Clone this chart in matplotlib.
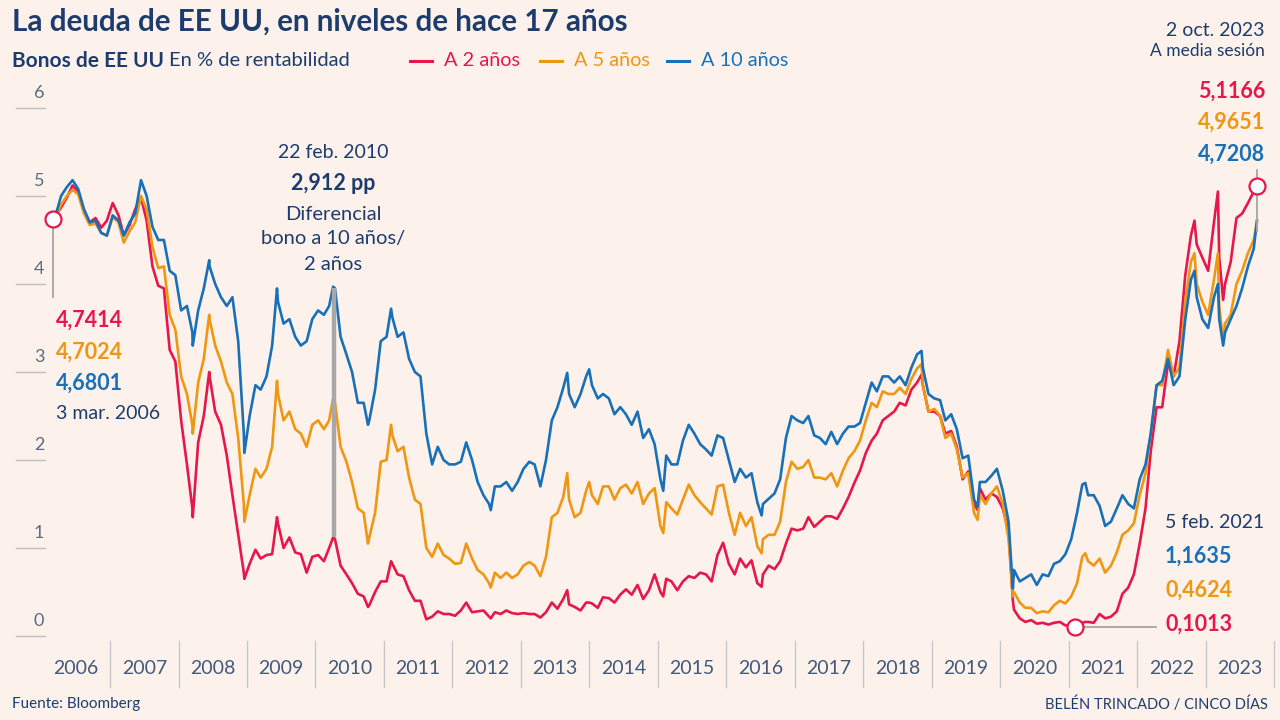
import matplotlib
matplotlib.use("Agg")
import matplotlib.pyplot as plt
import numpy as np
import pandas as pd

# ---------------- data ----------------
start_date = "2006-03-03"
end_date = "2023-10-02"
start_vals = {"y2": 4.7414, "y5": 4.7024, "y10": 4.6801}
end_vals = {"y2": 5.1166, "y5": 4.70, "y10": 4.7208}

# monthly readings (mid-month), Apr 2006 .. Sep 2023
y2 = [
    4.87, 4.98, 5.12, 5.05, 4.82, 4.70, 4.75, 4.64, 4.72,
    4.92, 4.78, 4.55, 4.67, 4.85, 4.98, 4.72, 4.20, 3.98, 3.95, 3.25, 3.12,
    2.45, 1.95, 1.45, 2.20, 2.50, 2.95, 2.55, 2.40, 2.05, 1.60, 1.15, 0.72,
    0.82, 0.98, 0.88, 0.92, 0.93, 1.28, 1.00, 1.12, 0.95, 0.93, 0.72, 0.90,
    0.92, 0.85, 1.00, 1.10, 0.80, 0.70, 0.60, 0.48, 0.45, 0.35, 0.50, 0.62,
    0.62, 0.82, 0.70, 0.68, 0.52, 0.40, 0.40, 0.19, 0.22, 0.28, 0.25, 0.25,
    0.23, 0.29, 0.38, 0.27, 0.28, 0.29, 0.22, 0.27, 0.25, 0.29, 0.26, 0.25,
    0.26, 0.25, 0.25, 0.21, 0.27, 0.38, 0.31, 0.42, 0.36, 0.33, 0.29, 0.38,
    0.37, 0.32, 0.44, 0.43, 0.38, 0.47, 0.53, 0.47, 0.58, 0.42, 0.52, 0.70,
    0.50, 0.65, 0.62, 0.52, 0.62, 0.68, 0.66, 0.72, 0.70, 0.62, 0.92, 1.06,
    0.82, 0.70, 0.88, 0.78, 0.86, 0.60, 0.70, 0.80, 0.76, 0.85, 1.05, 1.22,
    1.20, 1.22, 1.35, 1.24, 1.30, 1.36, 1.36, 1.33, 1.45, 1.58, 1.74, 1.88,
    2.08, 2.22, 2.30, 2.45, 2.50, 2.55, 2.65, 2.62, 2.80, 2.88, 2.85, 2.55,
    2.55, 2.50, 2.30, 2.33, 2.15, 1.78, 1.87, 1.50, 1.68, 1.55, 1.62, 1.58,
    1.45, 1.20, 0.30, 0.20, 0.16, 0.18, 0.14, 0.15, 0.13, 0.15, 0.16, 0.12,
    0.12, 0.11, 0.15, 0.16, 0.15, 0.25, 0.20, 0.22, 0.28, 0.48, 0.55, 0.70,
    1.05, 1.45, 2.10, 2.60, 2.60, 3.10, 2.95, 3.35, 4.10, 4.55, 4.45, 4.30,
    4.15, 4.70, 4.30, 4.00, 4.25, 4.75, 4.80, 4.92, 5.05,
]
y5 = [
    4.90, 5.00, 5.07, 5.02, 4.80, 4.67, 4.69, 4.58, 4.55,
    4.76, 4.70, 4.47, 4.60, 4.70, 5.00, 4.85, 4.42, 4.18, 4.20, 3.65, 3.48,
    2.95, 2.75, 2.40, 2.88, 3.15, 3.60, 3.30, 3.12, 2.88, 2.75, 2.25, 1.50,
    1.60, 1.90, 1.80, 1.90, 2.15, 2.75, 2.45, 2.55, 2.35, 2.30, 2.15, 2.40,
    2.45, 2.35, 2.45, 2.65, 2.15, 1.98, 1.75, 1.45, 1.40, 1.12, 1.40, 1.98,
    2.00, 2.28, 2.10, 2.15, 1.80, 1.55, 1.50, 1.00, 0.90, 1.05, 0.92, 0.88,
    0.82, 0.83, 1.05, 0.88, 0.75, 0.70, 0.60, 0.72, 0.66, 0.72, 0.66, 0.70,
    0.80, 0.84, 0.80, 0.68, 0.90, 1.35, 1.40, 1.58, 1.55, 1.35, 1.40, 1.65,
    1.60, 1.50, 1.70, 1.70, 1.55, 1.68, 1.72, 1.62, 1.75, 1.50, 1.62, 1.68,
    1.25, 1.52, 1.45, 1.38, 1.55, 1.72, 1.60, 1.52, 1.45, 1.38, 1.70, 1.72,
    1.40, 1.15, 1.40, 1.25, 1.35, 1.02, 1.10, 1.15, 1.15, 1.30, 1.75, 1.98,
    1.90, 1.92, 2.00, 1.80, 1.80, 1.78, 1.85, 1.70, 1.88, 2.02, 2.10, 2.22,
    2.45, 2.65, 2.60, 2.78, 2.75, 2.75, 2.82, 2.75, 2.92, 3.04, 2.85, 2.55,
    2.58, 2.50, 2.25, 2.30, 2.12, 1.80, 1.85, 1.40, 1.60, 1.50, 1.62, 1.70,
    1.50, 1.10, 0.50, 0.38, 0.32, 0.32, 0.26, 0.28, 0.27, 0.35, 0.40, 0.37,
    0.45, 0.60, 0.90, 0.85, 0.80, 0.88, 0.72, 0.80, 0.95, 1.15, 1.20, 1.28,
    1.60, 1.85, 2.30, 2.85, 2.85, 3.25, 2.95, 3.05, 3.80, 4.25, 4.00, 3.80,
    3.65, 4.05, 3.75, 3.55, 3.65, 4.00, 4.15, 4.35, 4.50,
]
y10 = [
    5.00, 5.10, 5.18, 5.08, 4.85, 4.70, 4.72, 4.58, 4.55,
    4.78, 4.72, 4.55, 4.70, 4.80, 5.18, 5.00, 4.65, 4.50, 4.50, 4.15, 4.10,
    3.70, 3.75, 3.45, 3.70, 3.95, 4.20, 4.00, 3.85, 3.75, 3.85, 3.35, 2.30,
    2.50, 2.85, 2.80, 2.95, 3.30, 3.80, 3.55, 3.60, 3.40, 3.30, 3.35, 3.60,
    3.70, 3.65, 3.75, 3.95, 3.40, 3.20, 3.00, 2.65, 2.65, 2.45, 2.80, 3.35,
    3.40, 3.62, 3.40, 3.45, 3.15, 3.00, 2.95, 2.30, 1.95, 2.15, 2.00, 1.95,
    1.95, 1.98, 2.20, 2.00, 1.75, 1.60, 1.50, 1.70, 1.70, 1.75, 1.65, 1.75,
    1.90, 1.98, 1.95, 1.70, 2.00, 2.45, 2.60, 2.82, 2.75, 2.60, 2.75, 2.95,
    2.85, 2.70, 2.75, 2.70, 2.52, 2.60, 2.52, 2.40, 2.55, 2.25, 2.35, 2.18,
    1.78, 2.05, 1.95, 1.95, 2.22, 2.40, 2.30, 2.18, 2.12, 2.05, 2.28, 2.25,
    2.00, 1.75, 1.90, 1.80, 1.85, 1.52, 1.50, 1.56, 1.62, 1.78, 2.25, 2.50,
    2.45, 2.42, 2.50, 2.28, 2.25, 2.18, 2.32, 2.18, 2.30, 2.38, 2.38, 2.42,
    2.65, 2.88, 2.78, 2.95, 2.95, 2.88, 2.95, 2.85, 3.05, 3.20, 3.05, 2.75,
    2.70, 2.68, 2.45, 2.52, 2.35, 2.02, 2.05, 1.55, 1.75, 1.75, 1.82, 1.90,
    1.65, 1.30, 0.75, 0.62, 0.66, 0.70, 0.58, 0.70, 0.68, 0.82, 0.85, 0.93,
    1.10, 1.40, 1.72, 1.60, 1.60, 1.48, 1.25, 1.30, 1.45, 1.60, 1.50, 1.45,
    1.78, 1.95, 2.30, 2.85, 2.90, 3.15, 2.85, 2.95, 3.60, 4.05, 3.85, 3.60,
    3.50, 3.85, 3.60, 3.45, 3.60, 3.75, 3.95, 4.20, 4.40,
]

# extra readings at visible peaks and troughs
extra_dates = [
    "2008-03-17", "2008-06-13", "2008-12-18", "2009-06-10", "2010-04-05",
    "2010-10-08", "2011-02-08", "2012-07-24", "2013-09-05", "2013-12-31",
    "2015-01-30", "2016-07-08", "2018-11-08", "2019-09-03", "2020-03-09",
    "2021-03-31", "2022-11-03", "2023-03-08", "2023-04-05",
]
extra_y2 = [1.35, 3.00, 0.65, 1.35, 1.12, 0.33, 0.85, 0.20, 0.52, 0.38,
            0.45, 0.56, 2.97, 1.43, 0.40, 0.16, 4.72, 5.05, 3.82]
extra_y5 = [2.30, 3.65, 1.30, 2.90, 2.70, 1.05, 2.40, 0.55, 1.85, 1.75,
            1.17, 0.94, 3.09, 1.32, 0.45, 0.94, 4.35, 4.35, 3.35]
extra_y10 = [3.30, 4.27, 2.08, 3.95, 3.97, 2.40, 3.72, 1.43, 2.99, 3.03,
             1.65, 1.37, 3.24, 1.47, 0.54, 1.74, 4.15, 4.00, 3.30]

years = list(range(2006, 2024))
yticks = [0, 1, 2, 3, 4, 5, 6]
series_names = ["A 2 años", "A 5 años", "A 10 años"]

# annotations
spread_date = 2010.27
spread_low, spread_high = 1.12, 3.95
feb21_date = "2021-02-05"
feb21_vals = {"y10": "1,1635", "y5": "0,4624", "y2": "0,1013"}
feb21_y2 = 0.1013

# ---------------- styling ----------------
BG = "#FCF2EB"
RED = "#E5174B"
ORANGE = "#EF9612"
BLUE = "#1770B8"
NAVY = "#1D3C6E"
AXISTXT = "#40597C"
GREY = "#A5A5A5"

plt.rcParams["font.family"] = ["Lato", "DejaVu Sans"]

W, H = 1280, 720
fig = plt.figure(figsize=(12.8, 7.2), dpi=100, facecolor=BG)


def fx(x):
    return x / W


def fy(y):
    return 1 - y / H


def T(x, y, s, **kw):
    kw.setdefault("va", "center")
    fig.text(fx(x), fy(y), s, **kw)


x0_px, x1_px = 41.6, 1274.0
y0_px, y6_px = 636.0, 108.0
ax = fig.add_axes([fx(x0_px), fy(y0_px), (x1_px - x0_px) / W, (y0_px - y6_px) / H])
ax.set_xlim(2006, 2024)
ax.set_ylim(0, 6)
ax.axis("off")
ax.patch.set_alpha(0)


def dec_year(ts):
    ts = pd.DatetimeIndex(ts)
    return np.asarray(ts.year + (ts.dayofyear - 1) / (365 + ts.is_leap_year.astype(int)))


mid = pd.date_range("2006-04-01", "2023-09-01", freq="MS") + pd.Timedelta(days=14)
assert len(mid) == len(y2) == len(y5) == len(y10)

df = pd.DataFrame({
    "x": np.concatenate([dec_year([start_date]), dec_year(mid), dec_year(extra_dates),
                         dec_year([end_date])]),
    "y2": [start_vals["y2"]] + y2 + extra_y2 + [end_vals["y2"]],
    "y5": [start_vals["y5"]] + y5 + extra_y5 + [end_vals["y5"]],
    "y10": [start_vals["y10"]] + y10 + extra_y10 + [end_vals["y10"]],
}).sort_values("x")

lw = 1.9
ax.plot(df["x"], df["y2"], color=RED, lw=lw, zorder=3, clip_on=False, solid_joinstyle="round")
ax.plot(df["x"], df["y5"], color=ORANGE, lw=lw, zorder=4, clip_on=False, solid_joinstyle="round")
ax.plot(df["x"], df["y10"], color=BLUE, lw=lw, zorder=5, clip_on=False, solid_joinstyle="round")

# y ticks (short lines at left)
for v in yticks:
    ypx = y0_px - 88 * v
    fig.add_artist(plt.Line2D([fx(16), fx(45)], [fy(ypx), fy(ypx)], color="#BDBDBD", lw=1.0))
    T(39, ypx - 15, str(v), ha="center", fontsize=13, color="#5B6C82")

# year separators and labels
for yr in years:
    xb = x0_px + (yr + 1 - 2006) * (x1_px - x0_px) / 18
    fig.add_artist(plt.Line2D([fx(xb), fx(xb)], [fy(641), fy(687)], color="#C8C8C8", lw=1.0))
    xc = x0_px + (yr + 0.5 - 2006) * (x1_px - x0_px) / 18
    T(xc, 668, str(yr), ha="center", fontsize=14, color=AXISTXT)

# start marker
sx = dec_year([start_date])[0]
ax.plot([sx, sx], [3.85, start_vals["y2"]], color=GREY, lw=1.3, zorder=6, clip_on=False)
ax.plot(sx, start_vals["y2"], "o", ms=11.5, mfc="white", mec=RED, mew=1.6, zorder=8, clip_on=False)
T(56, 320, "4,7414", ha="left", fontsize=15.5, fontweight="bold", color=RED)
T(56, 352, "4,7024", ha="left", fontsize=15.5, fontweight="bold", color=ORANGE)
T(56, 383, "4,6801", ha="left", fontsize=15.5, fontweight="bold", color=BLUE)
T(56, 414, "3 mar. 2006", ha="left", fontsize=14, color=NAVY)

# spread bar
ax.plot([spread_date, spread_date], [spread_low, spread_high], color="#A8A8A8", lw=3.2,
        zorder=7, solid_capstyle="butt")
T(333, 153, "22 feb. 2010", ha="center", fontsize=14, color=NAVY)
T(333, 184, "2,912 pp", ha="center", fontsize=15.5, fontweight="bold", color=NAVY)
T(333, 214, "Diferencial", ha="center", fontsize=14.5, color=NAVY)
T(333, 239, "bono a 10 años/", ha="center", fontsize=14.5, color=NAVY)
T(333, 264, "2 años", ha="center", fontsize=14.5, color=NAVY)

# Feb 2021 marker
fxd = dec_year([feb21_date])[0]
ax.plot([fxd, 2022.27], [feb21_y2, feb21_y2], color=GREY, lw=1.3, zorder=6, clip_on=False)
ax.plot(fxd, feb21_y2, "o", ms=11.5, mfc="white", mec=RED, mew=1.6, zorder=8, clip_on=False)
T(1165, 523, "5 feb. 2021", ha="left", fontsize=14, color=NAVY)
T(1165, 556, feb21_vals["y10"], ha="left", fontsize=15.5, fontweight="bold", color=BLUE)
T(1165, 590, feb21_vals["y5"], ha="left", fontsize=15.5, fontweight="bold", color=ORANGE)
T(1165, 624, feb21_vals["y2"], ha="left", fontsize=15.5, fontweight="bold", color=RED)

# end marker
ex = dec_year([end_date])[0]
ax.plot([ex, ex], [4.6, 5.3], color=GREY, lw=1.3, zorder=6, clip_on=False)
ax.plot(ex, end_vals["y2"], "o", ms=11.5, mfc="white", mec=RED, mew=1.6, zorder=8, clip_on=False)
T(1265, 30, "2 oct. 2023", ha="right", fontsize=14, color=NAVY)
T(1265, 51, "A media sesión", ha="right", fontsize=12.5, color=NAVY)
T(1265, 91, "5,1166", ha="right", fontsize=15.5, fontweight="bold", color=RED)
T(1265, 122, "4,9651", ha="right", fontsize=15.5, fontweight="bold", color=ORANGE)
T(1265, 154, "4,7208", ha="right", fontsize=15.5, fontweight="bold", color=BLUE)

# title / subtitle / legend
T(12, 22, "La deuda de EE UU, en niveles de hace 17 años", ha="left", fontsize=21.3,
  fontweight="bold", color=NAVY)
T(12, 61, "Bonos de EE UU", ha="left", fontsize=15, fontweight="bold", color=NAVY)
T(169, 61, "En % de rentabilidad", ha="left", fontsize=14.5, color=NAVY)
for (lx, col, name) in [(410, RED, series_names[0]), (540, ORANGE, series_names[1]),
                        (667, BLUE, series_names[2])]:
    fig.add_artist(plt.Line2D([fx(lx), fx(lx + 22)], [fy(61), fy(61)], color=col, lw=2.2))
    T(lx + 34, 61, name, ha="left", fontsize=14.3, color=col)

# footer
T(12, 704, "Fuente: Bloomberg", ha="left", fontsize=11, color=NAVY)
T(1268, 704, "BELÉN TRINCADO / CINCO DÍAS", ha="right", fontsize=10.5, color=NAVY)

fig.savefig("out.png", dpi=100, facecolor=BG)
